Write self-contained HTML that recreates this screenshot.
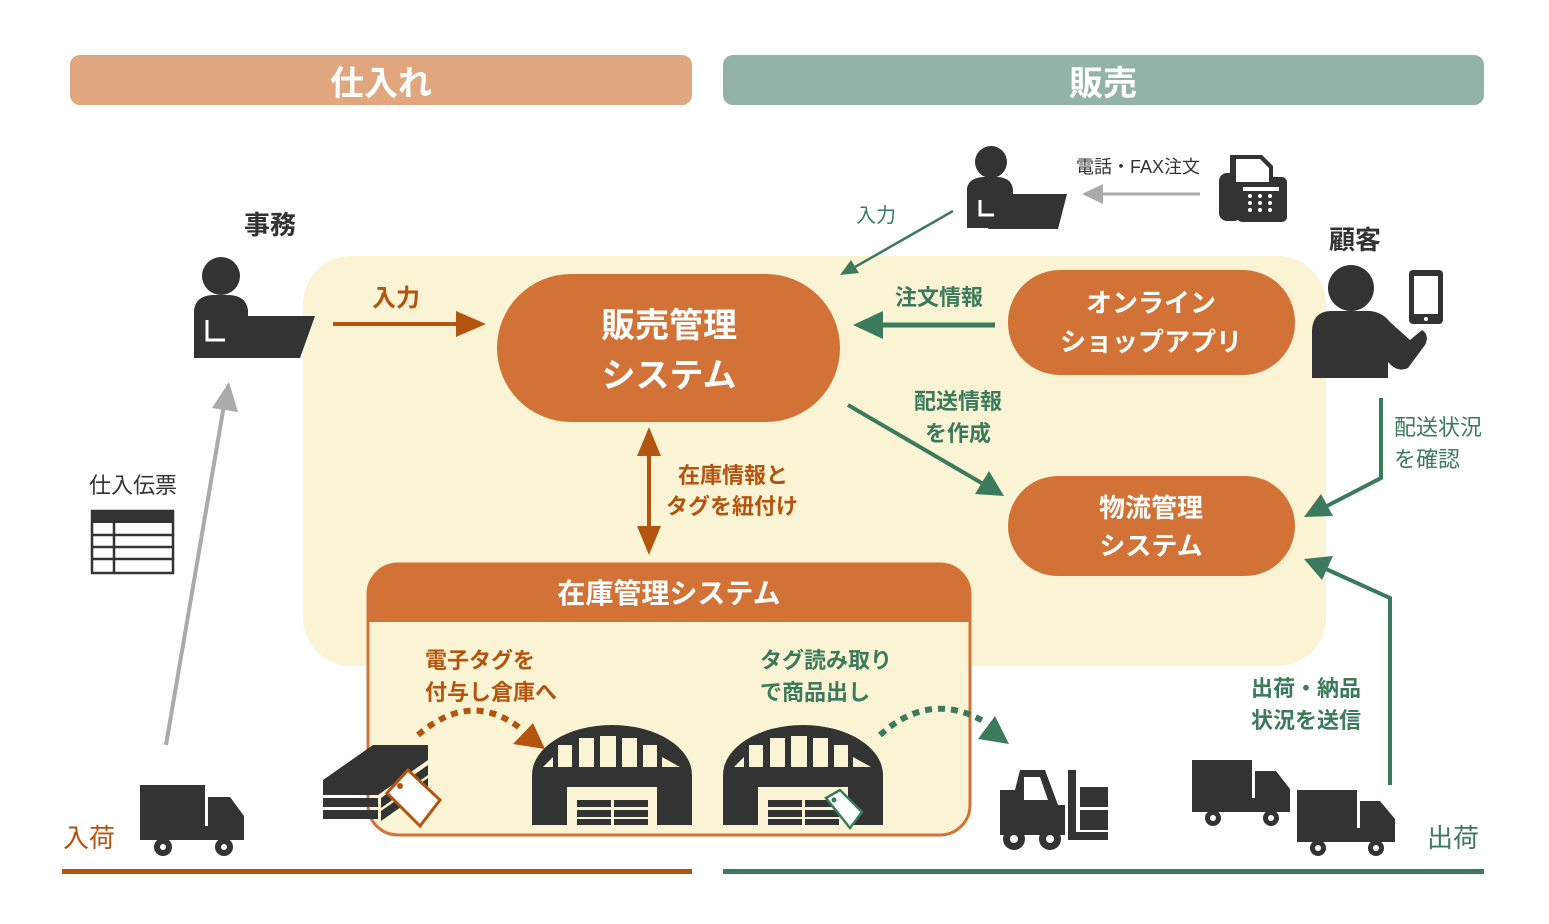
<!DOCTYPE html>
<html><head><meta charset="utf-8"><style>
html,body{margin:0;padding:0;background:#fff;}
svg{display:block;}
text{font-family:"Liberation Sans","Noto Sans CJK JP",sans-serif;}
.b{font-weight:bold;}
</style></head><body>
<svg width="1549" height="924" viewBox="0 0 1549 924" xmlns="http://www.w3.org/2000/svg">
<defs>
<marker id="ao" markerWidth="8" markerHeight="8" refX="6" refY="4" orient="auto" markerUnits="userSpaceOnUse" viewBox="0 0 8 8"><path d="M0,0 L8,4 L0,8z" fill="#b3540f"/></marker>
</defs>
<!-- headers -->
<rect x="70" y="55" width="622" height="50" rx="10" fill="#e0a67e"/>
<text x="381" y="95" font-size="34" fill="#fff" text-anchor="middle" class="b">仕入れ</text>
<rect x="723" y="55" width="761" height="50" rx="10" fill="#93b3a8"/>
<text x="1103" y="95" font-size="34" fill="#fff" text-anchor="middle" class="b">販売</text>
<!-- cream -->
<rect x="303" y="256" width="1023" height="410" rx="48" fill="#faf4d4"/>
<!-- nodes -->
<rect x="497" y="274" width="343" height="148" rx="74" fill="#d27236"/>
<text x="669" y="337" font-size="34" fill="#fff" text-anchor="middle" class="b">販売管理</text>
<text x="669" y="387" font-size="34" fill="#fff" text-anchor="middle" class="b">システム</text>
<rect x="1008" y="270" width="287" height="105" rx="52" fill="#d27236"/>
<text x="1151" y="312" font-size="26" fill="#fff" text-anchor="middle" class="b">オンライン</text>
<text x="1151" y="351" font-size="26" fill="#fff" text-anchor="middle" class="b">ショップアプリ</text>
<rect x="1008" y="476" width="287" height="100" rx="50" fill="#d27236"/>
<text x="1151" y="517" font-size="26" fill="#fff" text-anchor="middle" class="b">物流管理</text>
<text x="1151" y="555" font-size="26" fill="#fff" text-anchor="middle" class="b">システム</text>
<!-- inventory box -->
<rect x="368" y="564" width="602" height="271" rx="30" fill="#faf4d4" stroke="#d27236" stroke-width="3"/>
<path d="M368,622 L368,594 A30,30 0 0 1 398,564 L940,564 A30,30 0 0 1 970,594 L970,622 Z" fill="#d27236"/>
<text x="669" y="603" font-size="28" fill="#fff" text-anchor="middle" class="b">在庫管理システム</text>
<text x="425" y="668" font-size="22" fill="#b3540f" class="b">電子タグを</text>
<text x="425" y="700" font-size="22" fill="#b3540f" class="b">付与し倉庫へ</text>
<text x="760" y="668" font-size="22" fill="#3b7a5c" class="b">タグ読み取り</text>
<text x="760" y="700" font-size="22" fill="#3b7a5c" class="b">で商品出し</text>
<!-- bottom lines -->
<rect x="62" y="869" width="630" height="5" fill="#b3540f"/>
<rect x="723" y="869" width="761" height="5" fill="#3b7a5c"/>
<text x="63" y="847" font-size="26" fill="#b3540f">入荷</text>
<text x="1427" y="847" font-size="26" fill="#3b7a5c">出荷</text>
<!-- labels -->
<text x="270" y="234" font-size="26" fill="#333" text-anchor="middle" class="b">事務</text>
<text x="1355" y="249" font-size="26" fill="#333" text-anchor="middle" class="b">顧客</text>
<text x="396" y="306" font-size="24" fill="#b3540f" text-anchor="middle" class="b">入力</text>
<text x="939" y="305" font-size="22" fill="#3b7a5c" text-anchor="middle" class="b">注文情報</text>
<text x="876" y="222" font-size="20" fill="#3b7a5c" text-anchor="middle">入力</text>
<text x="1138" y="173" font-size="18" fill="#333" text-anchor="middle">電話・FAX注文</text>
<text x="958" y="409" font-size="22" fill="#3b7a5c" text-anchor="middle" class="b">配送情報</text>
<text x="958" y="441" font-size="22" fill="#3b7a5c" text-anchor="middle" class="b">を作成</text>
<text x="678" y="483" font-size="22" fill="#b3540f" class="b">在庫情報と</text>
<text x="666" y="514" font-size="22" fill="#b3540f" class="b">タグを紐付け</text>
<text x="1394" y="435" font-size="22" fill="#3b7a5c">配送状況</text>
<text x="1394" y="467" font-size="22" fill="#3b7a5c">を確認</text>
<text x="1306" y="696" font-size="22" fill="#3b7a5c" text-anchor="middle" class="b">出荷・納品</text>
<text x="1306" y="728" font-size="22" fill="#3b7a5c" text-anchor="middle" class="b">状況を送信</text>
<text x="133" y="493" font-size="22" fill="#333" text-anchor="middle">仕入伝票</text>
<!-- arrows -->
<line x1="333" y1="324" x2="462" y2="324" stroke="#b3540f" stroke-width="4"/>
<path d="M486,324 L456,311 L456,337z" fill="#b3540f"/>
<line x1="995" y1="325" x2="878" y2="325" stroke="#3b7a5c" stroke-width="5"/>
<path d="M853,325 L883,311 L883,339z" fill="#3b7a5c"/>
<line x1="953" y1="211" x2="855" y2="267" stroke="#3b7a5c" stroke-width="2.5"/>
<path d="M840,275 L851,260 L859,273z" fill="#3b7a5c"/>
<line x1="1200" y1="194" x2="1100" y2="194" stroke="#aaa" stroke-width="3"/>
<path d="M1082,194 L1103,184 L1103,204z" fill="#aaa"/>
<line x1="848" y1="405" x2="985" y2="485" stroke="#3b7a5c" stroke-width="4"/>
<path d="M1004,496 L975,494 L989,471z" fill="#3b7a5c"/>
<polyline points="1381,398 1381,478 1325,507" fill="none" stroke="#3b7a5c" stroke-width="4"/>
<path d="M1304,517 L1321,494 L1333,516z" fill="#3b7a5c"/>
<polyline points="1390,785 1390,598 1326,569" fill="none" stroke="#3b7a5c" stroke-width="4"/>
<path d="M1304,559 L1333,556 L1322,580z" fill="#3b7a5c"/>
<line x1="166" y1="745" x2="224" y2="405" stroke="#aaa" stroke-width="4"/>
<path d="M229,382 L238,412 L212,408z" fill="#aaa"/>
<line x1="649" y1="450" x2="649" y2="532" stroke="#b3540f" stroke-width="4"/>
<path d="M649,427 L661,456 L637,456z M649,555 L661,526 L637,526z" fill="#b3540f"/>
<path d="M418,735 Q470,690 520,728" fill="none" stroke="#b3540f" stroke-width="6" stroke-dasharray="7,6"/>
<path d="M545,749 L513,744 L533,723z" fill="#b3540f"/>
<path d="M880,735 Q930,690 985,722" fill="none" stroke="#3b7a5c" stroke-width="6" stroke-dasharray="7,6"/>
<path d="M1009,744 L978,739 L995,716z" fill="#3b7a5c"/>
<!-- person at desk (jimu) -->
<g fill="#333">
<circle cx="221" cy="276" r="19"/>
<path d="M194,358 L194,310 Q196,296 212,295 L230,295 Q246,296 248,310 L248,340 L230,358z"/>
<path d="M226,358 L244,316 L315,316 L300,358z"/>
</g>
<path d="M207,320 L207,340 L225,340" fill="none" stroke="#fff" stroke-width="3"/>
<!-- person at desk (top) -->
<g fill="#333">
<circle cx="991" cy="162" r="16"/>
<path d="M967,228 L967,188 Q969,178 983,177 L998,177 Q1012,178 1013,190 L1013,215 L998,228z"/>
<path d="M988,229 L1003,194 L1067,194 L1058,229z"/>
</g>
<path d="M980,200 L980,215 L994,215" fill="none" stroke="#fff" stroke-width="3"/>
<!-- fax -->
<g fill="#333">
<rect x="1219" y="173" width="23" height="48" rx="8"/>
<rect x="1237" y="177" width="50" height="45" rx="5"/>
<path d="M1230,155 L1262,155 L1273,166 L1273,185 L1230,185z"/>
</g>
<path d="M1236,159 L1260,159 L1269,168 L1269,182 L1236,182z" fill="#fff"/>
<rect x="1243" y="187" width="36" height="4" fill="#fff"/>
<g fill="#fff"><circle cx="1250" cy="196" r="2"/><circle cx="1260" cy="196" r="2"/><circle cx="1270" cy="196" r="2"/><circle cx="1250" cy="203" r="2"/><circle cx="1260" cy="203" r="2"/><circle cx="1270" cy="203" r="2"/><circle cx="1250" cy="210" r="2"/><circle cx="1260" cy="210" r="2"/><circle cx="1270" cy="210" r="2"/></g>
<!-- customer -->
<g fill="#333">
<circle cx="1351" cy="288" r="23"/>
<path d="M1312,378 L1312,330 Q1313,312 1330,311 L1370,311 Q1382,312 1390,322 L1410,340 L1422,330 Q1430,335 1425,345 L1408,368 Q1400,372 1392,366 L1388,362 L1388,378z"/>
<rect x="1409" y="270" width="34" height="54" rx="4"/>
</g>
<rect x="1414" y="276" width="24" height="38" fill="#fff"/>
<circle cx="1426" cy="319" r="2" fill="#fff"/>
<!-- doc -->
<g stroke="#333" stroke-width="2.5" fill="none">
<rect x="92" y="511" width="81" height="62"/>
<line x1="92" y1="535" x2="173" y2="535"/><line x1="92" y1="547" x2="173" y2="547"/><line x1="92" y1="559" x2="173" y2="559"/>
<line x1="114" y1="511" x2="114" y2="573"/>
</g>
<rect x="92" y="511" width="81" height="12" fill="#333"/>
<!-- trucks -->
<g fill="#333">
<rect x="140" y="785" width="65" height="45"/>
<path d="M208,797 L230,797 L244,816 L244,840 L208,840z"/>
<rect x="140" y="826" width="104" height="14"/>
<circle cx="163" cy="847" r="9"/><circle cx="224" cy="847" r="9"/>
<rect x="1192" y="760" width="60" height="42"/>
<path d="M1255,771 L1276,771 L1290,789 L1290,812 L1255,812z"/>
<rect x="1192" y="798" width="98" height="14"/>
<circle cx="1213" cy="818" r="8"/><circle cx="1271" cy="818" r="8"/>
<rect x="1297" y="790" width="60" height="42"/>
<path d="M1360,801 L1380,801 L1395,819 L1395,842 L1360,842z"/>
<rect x="1297" y="828" width="98" height="14"/>
<circle cx="1318" cy="848" r="8"/><circle cx="1376" cy="848" r="8"/>
</g>
<g fill="#fff"><circle cx="163" cy="847" r="3"/><circle cx="224" cy="847" r="3"/><circle cx="1213" cy="818" r="3"/><circle cx="1271" cy="818" r="3"/><circle cx="1318" cy="848" r="3"/><circle cx="1376" cy="848" r="3"/></g>
<!-- forklift -->
<g fill="#333">
<path d="M1000,835 L1000,790 L1015,790 L1020,770 L1045,770 L1058,805 L1065,805 L1065,835z"/>
<rect x="1068" y="770" width="8" height="70"/>
<rect x="1076" y="832" width="32" height="8"/>
<rect x="1080" y="787" width="28" height="20"/><rect x="1080" y="810" width="28" height="20"/>
<circle cx="1014" cy="839" r="11"/><circle cx="1050" cy="839" r="11"/>
</g>
<path d="M1024,777 L1040,777 L1048,800 L1024,800z" fill="#fff"/>
<g fill="#fff"><circle cx="1014" cy="839" r="4"/><circle cx="1050" cy="839" r="4"/></g>
<!-- boxes stack -->
<g fill="#333">
<path d="M323,780 L373,745 L428,745 L428,760 L378,795 L323,795z"/>
<rect x="323" y="798" width="55" height="9"/><rect x="323" y="810" width="55" height="9"/>
<path d="M381,798 L428,765 L428,775 L381,808z M381,811 L428,778 L428,788 L381,821z"/>
</g>
<path d="M387,793 L408,770 L440,800 L420,826z" fill="#fff" stroke="#b3540f" stroke-width="3"/>
<circle cx="400" cy="786" r="3" fill="#b3540f"/>
<!-- warehouses -->
<g fill="#333">
<path d="M532,825 L532,775 A80,50 0 0 1 692,775 L692,825 L657,825 L657,787 L567,787 L567,825z"/>
<path d="M723,825 L723,775 A80,50 0 0 1 883,775 L883,825 L848,825 L848,787 L758,787 L758,825z"/>
<rect x="577" y="800" width="34" height="7"/><rect x="614" y="800" width="34" height="7"/>
<rect x="577" y="810" width="34" height="7"/><rect x="614" y="810" width="34" height="7"/>
<rect x="577" y="819" width="34" height="6"/><rect x="614" y="819" width="34" height="6"/>
<rect x="768" y="800" width="34" height="7"/><rect x="805" y="800" width="34" height="7"/>
<rect x="768" y="810" width="34" height="7"/><rect x="805" y="810" width="34" height="7"/>
<rect x="768" y="819" width="34" height="6"/><rect x="805" y="819" width="34" height="6"/>
</g>
<g fill="#faf4d4">
<path d="M543,767 L553,757 L553,767z"/><rect x="558" y="745" width="14" height="22"/><rect x="579" y="738" width="15" height="29"/><rect x="600" y="736" width="16" height="31"/><rect x="622" y="738" width="15" height="29"/><rect x="643" y="745" width="14" height="22"/><path d="M662,757 L680,767 L662,767z"/>
<path d="M734,767 L744,757 L744,767z"/><rect x="749" y="745" width="14" height="22"/><rect x="770" y="738" width="15" height="29"/><rect x="791" y="736" width="16" height="31"/><rect x="813" y="738" width="15" height="29"/><rect x="834" y="745" width="14" height="22"/><path d="M853,757 L871,767 L853,767z"/>
</g>
<path d="M826,798 L840,790 L862,812 L850,828z" fill="#fff" stroke="#3b7a5c" stroke-width="2.5"/>
<circle cx="834" cy="800" r="2.5" fill="#3b7a5c"/>
</svg>
</body></html>
